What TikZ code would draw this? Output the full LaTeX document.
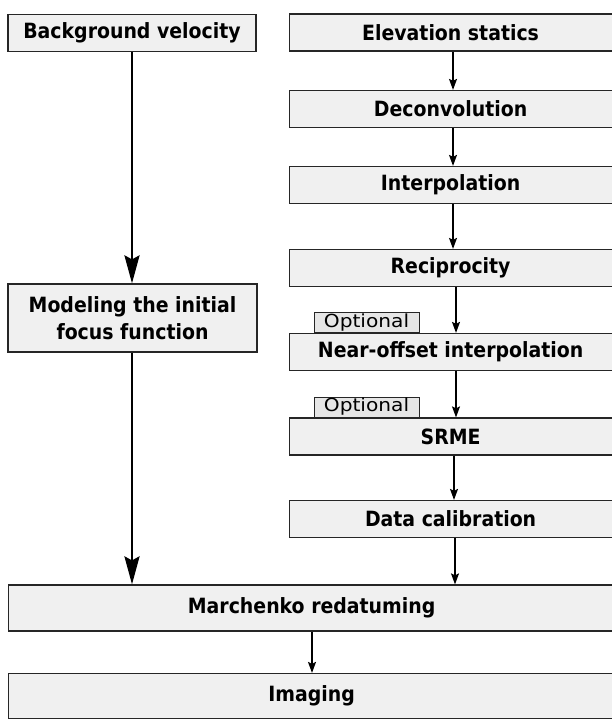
\documentclass[tikz,border=0pt]{standalone}
\usepackage{fontspec}
\setmainfont{DejaVu Sans}
\newfontfamily\condbold{DejaVu Sans Condensed}
\usetikzlibrary{arrows.meta}
\definecolor{boxfill}{HTML}{F0F0F0}
\definecolor{optfill}{HTML}{E6E6E6}
\tikzset{
  stepbox/.style={draw=black!85, line width=1.2pt, fill=boxfill, minimum height=37pt, inner sep=0pt,
     font=\condbold\bfseries\fontsize{21}{27}\selectfont, text=black},
  rightbox/.style={stepbox, minimum width=340pt, anchor=west, execute at begin node={\hspace*{-18pt}}},
  wideboxx/.style={stepbox, minimum width=640pt, anchor=west, execute at begin node={\hspace*{-34pt}}},
  optbox/.style={draw=black!85, line width=0.8pt, fill=optfill, minimum width=105pt, minimum height=20pt, inner sep=0pt,
     font=\fontsize{18}{20}\selectfont},
  thinarrow/.style={line width=1.3pt, -{Stealth[length=11pt,width=8pt,inset=2pt]}},
  thickarrow/.style={line width=2.6pt, -{Stealth[length=28pt,width=15pt,inset=4pt]}},
}
\begin{document}
\begin{tikzpicture}[x=1pt,y=-1pt]
\useasboundingbox (0,0) rectangle (611,719);
% left column
\node[stepbox, minimum width=248pt] (bg) at (132,33) {Background velocity};
\node[stepbox, minimum width=249pt, minimum height=68pt, align=center] (mod) at (132.5,318) {Modeling the initial\\focus function};
% right column
\node[rightbox] (elev) at (289,32.5) {Elevation statics};
\node[rightbox] (dec) at (289,109) {Deconvolution};
\node[rightbox] (int) at (289,185) {Interpolation};
\node[rightbox] (rec) at (289,268) {Reciprocity};
\node[rightbox] (near) at (289,352) {Near-offset interpolation};
\node[rightbox] (srme) at (289,436.5) {SRME};
\node[rightbox] (cal) at (289,519) {Data calibration};
% optional labels
\node[optbox] (opt1) at (366.5,322.5) {\scalebox{1.12}[1]{Optional}};
\node[optbox] (opt2) at (366.5,407) {\scalebox{1.12}[1]{Optional}};
% bottom
\node[wideboxx, minimum height=46pt] (mar) at (8,608) {Marchenko redatuming};
\node[wideboxx, minimum height=45pt] (img) at (8,696) {Imaging};
% connectors
\coordinate (ax) at (453,0);
\draw[thinarrow] (elev.south -| ax) -- (dec.north -| ax);
\draw[thinarrow] (dec.south -| ax) -- (int.north -| ax);
\draw[thinarrow] (int.south -| ax) -- (rec.north -| ax);
\coordinate (bx) at (456,0);
\draw[thinarrow] (rec.south -| bx) -- (near.north -| bx);
\draw[thinarrow] (near.south -| bx) -- (srme.north -| bx);
\coordinate (cx) at (454,0);
\draw[thinarrow] (srme.south -| cx) -- (cal.north -| cx);
\coordinate (dx) at (455,0);
\draw[thinarrow] (cal.south -| dx) -- (mar.north -| dx);
\coordinate (ex) at (312,0);
\draw[thinarrow] (mar.south -| ex) -- (img.north -| ex);
\coordinate (lx) at (132,0);
\draw[thickarrow] (bg.south -| lx) -- (mod.north -| lx);
\draw[thickarrow] (mod.south -| lx) -- (mar.north -| lx);
\end{tikzpicture}
\end{document}
